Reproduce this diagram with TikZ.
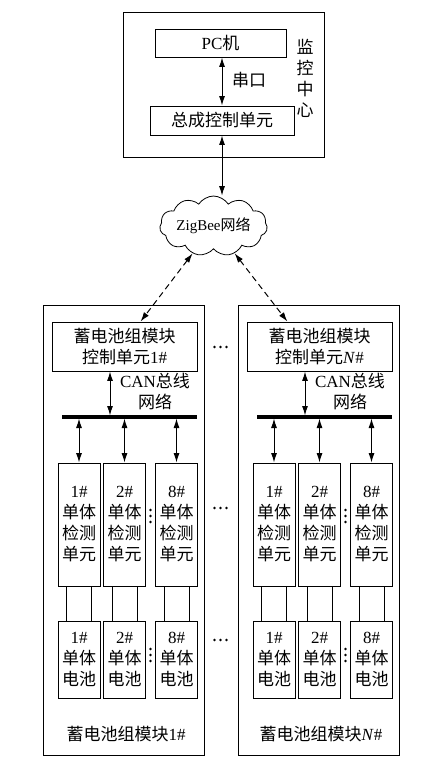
\documentclass[tikz,border=0pt]{standalone}
\usepackage{fontspec}
\setmainfont{Liberation Serif}
\newfontfamily\cjk{Noto Sans CJK SC}
\usetikzlibrary{arrows.meta,shapes.symbols,calc}
\newcommand\la[1]{{\rmfamily #1}}
\begin{document}
\begin{tikzpicture}[x=1pt,y=-1pt,
  zh/.style={font=\fontsize{17}{21}\selectfont\cjk},
  box/.style={draw,line width=0.9pt,inner sep=0pt,align=center,zh},
  txt/.style={inner sep=0pt,align=center,zh},
  tip/.tip={Latex[length=9.5pt,width=6pt]},
  arr/.style={line width=1pt,tip-tip},
  darr/.style={line width=1pt,dash pattern=on 6pt off 4pt,tip-tip},
  wire/.style={line width=0.8pt},
  dot/.style={fill=black}]
\fill[white] (0,0) rectangle (443,768);
\useasboundingbox (0,0) rectangle (443,768);
% monitoring centre
\node[box,minimum width=201pt,minimum height=145pt] (mc) at (223.5,84.5) {};
\node[box,minimum width=131pt,minimum height=28pt] (pc) at (220.5,43) {\la{PC}机};
\node[box,minimum width=144pt,minimum height=29pt] (zc) at (222,120.5) {总成控制单元};
\draw[arr] (zc.north) -- (zc.north |- pc.south);
\node[txt] (ck) at (249,80) {串口};
\node[txt] (jk) at (305,78) {监\\控\\中\\心};
% ZigBee cloud
\node[draw,cloud,cloud puffs=11,cloud puff arc=115,aspect=2.3,minimum width=104pt,minimum height=47pt,inner sep=0pt,line width=0.8pt,font=\fontsize{15}{18}\selectfont\cjk] (zig) at (213.5,226) {\la{ZigBee}网络};
\draw[arr] (zc.south) -- (zc.south |- zig.north);
% modules
\foreach \i/\dx/\lab in {1/0/{1\#},2/195/{\textit{N}\#}} {
  \begin{scope}[xshift=\dx pt]
    \node[box,minimum width=161pt,minimum height=450pt] (m\i) at (123.5,530) {};
    \node[box,minimum width=145pt,minimum height=49pt] (c\i) at (124.5,346.5) {蓄电池组模块\\控制单元\la{\lab}};
    \coordinate (bl\i) at (62,417);
    \coordinate (br\i) at (197,417);
    \coordinate (bt\i) at (110,415.5);
    \coordinate (bb\i) at (110,418.5);
    \draw[line width=3.5pt] (bl\i) -- (br\i);
    \draw[arr] (bt\i |- c\i.south) -- (bt\i);
    \node[txt] (can\i) at (155,392) {\la{CAN}总线\\网络};
    \foreach \j/\x/\n in {1/79/1,2/124.5/2,3/176.5/8} {
      \node[box,minimum width=42pt,minimum height=123pt] (d\i\j) at (\x,524.5) {\la{\n\#}\\单体\\检测\\单元};
      \draw[arr] (d\i\j.north |- bb\i) -- (d\i\j.north);
      \node[box,minimum width=42pt,minimum height=77pt] (b\i\j) at (\x,659.5) {\la{\n\#}\\单体\\电池};
      \draw[wire] ([xshift=-12.5pt]d\i\j.south) -- ([xshift=-12.5pt]b\i\j.north);
      \draw[wire] ([xshift=12.5pt]d\i\j.south) -- ([xshift=12.5pt]b\i\j.north);
    }
    \foreach \yy in {516,655} \foreach \k in {-6,0,6} \fill[dot] (150.5,\yy+\k) circle (1.3pt);
    \node[txt] (l\i) at (126,734) {蓄电池组模块\la{\lab}};
  \end{scope}
}
\draw[darr] (zig) -- ($(c1.north west)!0.61!(c1.north east)$);
\draw[darr] (zig) -- ($(c2.north west)!0.28!(c2.north east)$);
\foreach \yy in {347,508,640} \foreach \k in {-6,0,6} \fill[dot] (220.5+\k,\yy) circle (1.3pt);
\end{tikzpicture}
\end{document}
